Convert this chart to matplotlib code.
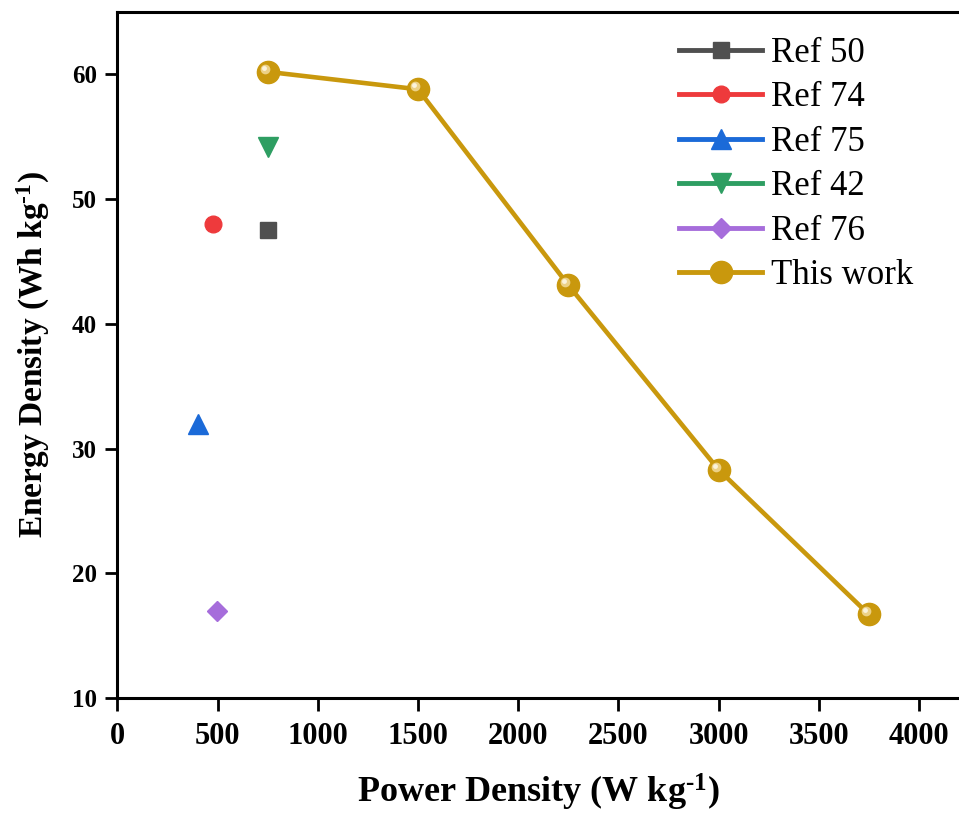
import numpy as np
import matplotlib
matplotlib.use('Agg')
import matplotlib.pyplot as plt
import matplotlib.transforms as mtransforms
from matplotlib.lines import Line2D

plt.rcParams['font.family'] = ['Liberation Serif', 'DejaVu Serif']
plt.rcParams['mathtext.fontset'] = 'custom'
plt.rcParams['mathtext.rm'] = 'Liberation Serif:bold'
plt.rcParams['mathtext.it'] = 'Liberation Serif:bold'
plt.rcParams['mathtext.bf'] = 'Liberation Serif:bold'

# reference points
ref_labels = ['Ref 50', 'Ref 74', 'Ref 75', 'Ref 42', 'Ref 76']
ref_power = [750, 478, 400, 750, 497]
ref_energy = [47.5, 48.0, 32.0, 54.2, 17.0]
ref_colors = ['#4f4f4f', '#ee3a3c', '#1b6ad8', '#2e9e62', '#a66ddb']
ref_markers = ['s', 'o', '^', 'v', 'D']
ref_sizes = [11, 12, 14, 14, 10]

# this work
work_power = [750, 1500, 2250, 3000, 3750]
work_energy = [60.2, 58.8, 43.1, 28.3, 16.7]
gold = '#c9980d'

fig = plt.figure(figsize=(9.59, 8.13), dpi=100)
ax = fig.add_axes([0.1225, 0.1415, 0.8775, 0.8438])

for x, y, c, m, s in zip(ref_power, ref_energy, ref_colors, ref_markers, ref_sizes):
    ax.plot([x], [y], linestyle='none', marker=m, color=c, ms=s, mec=c)

ax.plot(work_power, work_energy, '-', color=gold, lw=3.3, marker='o', ms=16,
        mfc=gold, mec=gold, zorder=3)
# soft highlight on the gold spheres
shift = mtransforms.offset_copy(ax.transData, fig=fig, x=-3, y=3, units='dots')
ax.plot(work_power, work_energy, linestyle='none', marker='o', ms=7,
        color='#f0d894', mec='none', alpha=0.9, transform=shift, zorder=4)
shift2 = mtransforms.offset_copy(ax.transData, fig=fig, x=-4, y=4, units='dots')
ax.plot(work_power, work_energy, linestyle='none', marker='o', ms=3.5,
        color='#fbf3dc', mec='none', transform=shift2, zorder=5)

ax.set_xlim(0, 4200)
ax.set_ylim(10, 65)
ax.set_xticks(np.arange(0, 4001, 500))
ax.set_yticks(np.arange(10, 61, 10))

ax.spines['right'].set_visible(False)
for sp in ['left', 'bottom', 'top']:
    ax.spines[sp].set_linewidth(2.2)
ax.tick_params(direction='out', length=9, width=2, top=False, right=False)
ax.tick_params(axis='x', labelsize=22, pad=8)
ax.tick_params(axis='y', labelsize=18, pad=6)
for lab in ax.get_xticklabels() + ax.get_yticklabels():
    lab.set_fontweight('bold')

ax.set_xlabel(r'Power Density (W kg$^{\text{-1}}$)', fontsize=26, fontweight='bold', labelpad=15)
ax.set_ylabel(r'Energy Density (Wh kg$^{\text{-1}}$)', fontsize=24, fontweight='bold', labelpad=14)

handles = [Line2D([], [], color=c, lw=3.5, marker=m, ms=s)
           for c, m, s in zip(ref_colors, ref_markers, ref_sizes)]
handles.append(Line2D([], [], color=gold, lw=3.5, marker='o', ms=16))
ax.legend(handles, ref_labels + ['This work'], loc='upper left',
          bbox_to_anchor=(0.690, 0.976), bbox_transform=fig.transFigure,
          frameon=False, fontsize=25, handlelength=2.4, handletextpad=0.25,
          labelspacing=0.33, borderpad=0)

fig.savefig('out.png', dpi=100)
